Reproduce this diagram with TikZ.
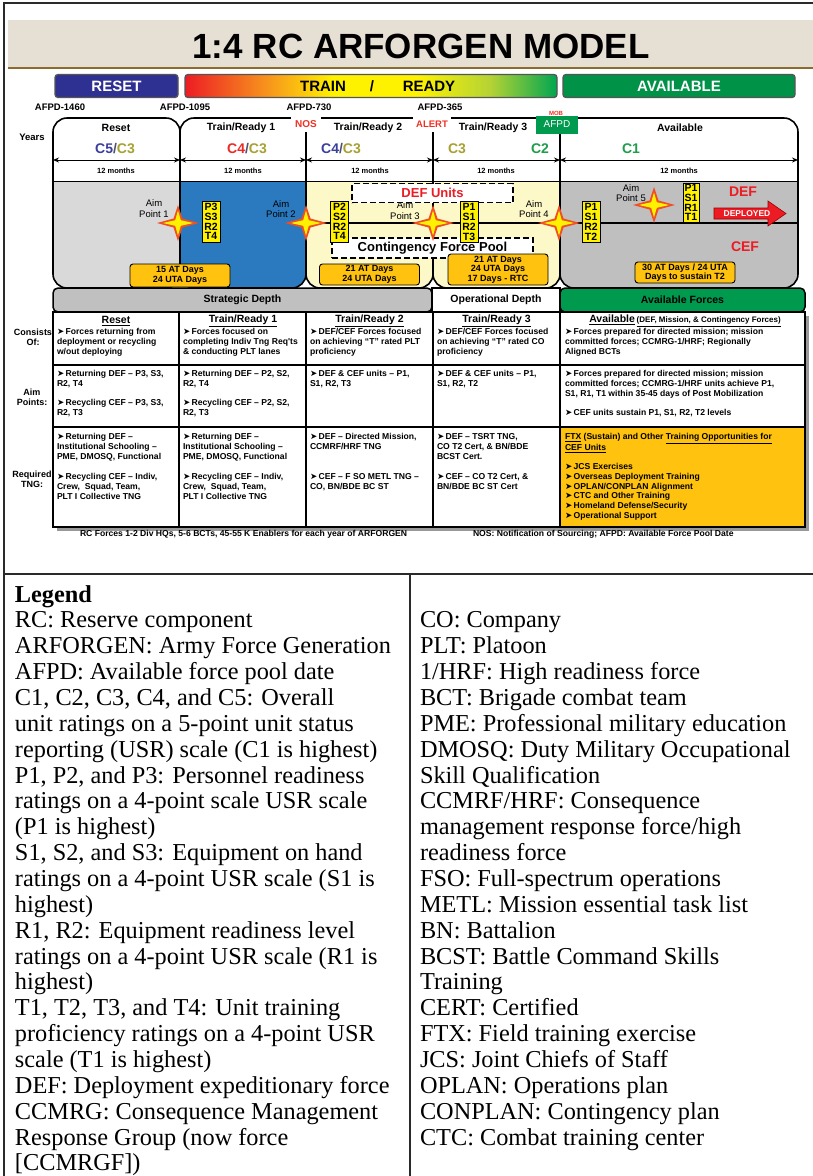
\documentclass[tikz,border=0pt]{standalone}
\usepackage{fontspec}
\setmainfont{Liberation Serif}
\newfontfamily\arial{Liberation Sans}
\newfontfamily\djv{DejaVu Sans}
\usetikzlibrary{arrows.meta}
\definecolor{beige}{HTML}{E6DFD3}
\definecolor{brownline}{HTML}{8B6B2E}
\definecolor{frameclr}{HTML}{2A2A2A}
\definecolor{phaseedge}{HTML}{555555}
\definecolor{resetblue}{HTML}{2E3192}
\definecolor{availgreen}{HTML}{009247}
\definecolor{trRed}{HTML}{ED1C24}
\definecolor{trOrange}{HTML}{F7941D}
\definecolor{trYellow}{HTML}{FFF200}
\definecolor{trLime}{HTML}{B5D334}
\definecolor{trGreen}{HTML}{00A651}
\definecolor{nosred}{HTML}{EE3124}
\definecolor{cblue}{HTML}{3B3F9E}
\definecolor{colive}{HTML}{A8A132}
\definecolor{cred}{HTML}{EE2A24}
\definecolor{cgreen}{HTML}{1E9E4B}
\definecolor{slashgray}{HTML}{505070}
\definecolor{resetgray}{HTML}{D9D9D9}
\definecolor{tr1blue}{HTML}{2B79BF}
\definecolor{lightyellow}{HTML}{FCF8C8}
\definecolor{availgray}{HTML}{BFBFBF}
\definecolor{psyellow}{HTML}{FFF200}
\definecolor{orangebox}{HTML}{FFC20E}
\definecolor{starred}{HTML}{F04E23}
\definecolor{staryellow}{HTML}{FFF200}
\definecolor{defred}{HTML}{ED1C24}
\definecolor{sdgray}{HTML}{C0C0C0}
\definecolor{afgreen}{HTML}{009A4E}
\pgfdeclarehorizontalshading{trainready}{100bp}{color(0bp)=(trRed); color(25bp)=(trRed); color(36bp)=(trOrange); color(45bp)=(trYellow); color(56bp)=(trYellow); color(66bp)=(trLime); color(75bp)=(trGreen); color(100bp)=(trGreen)}
\newcommand{\blt}{{\djv\fontsize{8.6}{8.6}\selectfont\char"27A4}\,}
\newcommand{\lane}[3]{%
  \fill[white,rounded corners=14pt] (#1,118) rectangle (#2,288);
  \begin{scope}
    \clip[rounded corners=14pt] (#1,118) rectangle (#2,288);
    \fill[#3] (#1,181) rectangle (#2,288);
  \end{scope}
  \draw[line width=0.8pt] (#1,181) -- (#2,181);
  \draw[monthsarrow] (#1,160) -- (#2,160);
  \draw[laneline] (#1,118) rectangle (#2,288);}
\begin{document}
\begin{tikzpicture}[x=1pt,y=-1pt,
  every node/.style={inner sep=0pt,outer sep=0pt},
  outerframe/.style={line width=2.2pt,draw=frameclr},
  phasebox/.style={draw=phaseedge,line width=1.3pt,rounded corners=3pt,minimum height=23pt,font=\arial\bfseries\fontsize{15}{18}\selectfont},
  phasefont/.style={font=\arial\bfseries\fontsize{15}{18}\selectfont},
  afpdlbl/.style={font=\arial\bfseries\fontsize{9.5}{11}\selectfont},
  lanehd/.style={font=\arial\bfseries\fontsize{10.5}{12}\selectfont},
  clbl/.style={font=\arial\bfseries\fontsize{14}{16}\selectfont},
  months/.style={font=\arial\bfseries\fontsize{7.5}{9}\selectfont},
  monthsarrow/.style={{Stealth[length=6pt,width=5pt]}-{Stealth[length=6pt,width=5pt]},line width=0.9pt},
  laneline/.style={line width=1.6pt,draw=black,rounded corners=14pt},
  aimlbl/.style={align=center,font=\arial\fontsize{9.5}{10.5}\selectfont},
  psrt/.style={draw=black,line width=0.8pt,fill=psyellow,align=center,minimum width=18pt,minimum height=41pt,font=\arial\bfseries\fontsize{10.5}{9.8}\selectfont},
  obox/.style={draw=black,line width=0.9pt,fill=orangebox,rounded corners=3pt,align=center,minimum width=100pt,font=\arial\bfseries\fontsize{9}{9.6}\selectfont},
  dashbox/.style={draw=black,dash pattern=on 6pt off 3pt,line width=1.8pt,fill=white,font=\arial\bfseries\fontsize{13}{15}\selectfont},
  redlbl/.style={text=defred,font=\arial\bfseries\fontsize{14}{16}\selectfont},
  tblhdr/.style={draw=black,line width=1.5pt,minimum height=24pt,font=\arial\bfseries\fontsize{10.5}{12}\selectfont},
  colhd/.style={font=\arial\bfseries\fontsize{10.5}{12}\selectfont},
  cell/.style={anchor=north west,align=left,font=\arial\bfseries\fontsize{8.6}{9.75}\selectfont},
  rowlbl/.style={align=center,font=\arial\bfseries\fontsize{9}{10}\selectfont},
  foot/.style={anchor=west,font=\arial\bfseries\fontsize{8.6}{10}\selectfont},
  leg/.style={anchor=base west,font=\fontsize{24.3}{25.9}\selectfont},
  tgrid/.style={line width=2pt,draw=black},
  aimstar/.pic={
    \fill[starred] (-21,0) -- (-4.5,-4.5) -- (0,-18) -- (4.5,-4.5) -- (21,0) -- (4.5,4.5) -- (0,18) -- (-4.5,4.5) -- cycle;
    \fill[staryellow] (-15,0) -- (-2.8,-2.8) -- (0,-12.5) -- (2.8,-2.8) -- (15,0) -- (2.8,2.8) -- (0,12.5) -- (-2.8,2.8) -- cycle;}
]
\useasboundingbox (0,0) rectangle (813,1176);
\fill[white] (0,0) rectangle (813,1176);
% frame
\draw[outerframe] (813,3) -- (4,3) -- (4,1176);
\draw[outerframe] (4,574) -- (813,574);
\draw[outerframe] (410,574) -- (410,1176);
% title
\fill[beige] (8,20) rectangle (813,68);
\draw[line width=1.5pt,brownline] (8,68) -- (813,68);
\node[font=\arial\bfseries\fontsize{35}{40}\selectfont] (title) at (421,46) {1:4 RC ARFORGEN MODEL};
% phase bars
\node[phasebox,fill=resetblue,text=white,minimum width=123pt] (reset) at (116.5,86) {RESET};
\node[phasebox,shade,shading=trainready,minimum width=372pt] (trbar) at (371,86) {};
\node[phasefont] (train) at (323,86) {TRAIN};
\node[phasefont] (slash) at (372,86) {/};
\node[phasefont] (ready) at (429,86) {READY};
\node[phasebox,fill=availgreen,text=white,minimum width=232pt] (availbar) at (679,86) {AVAILABLE};
% AFPD labels
\node[afpdlbl] (a1460) at (60,107) {AFPD-1460};
\node[afpdlbl] (a1095) at (185,107) {AFPD-1095};
\node[afpdlbl] (a730) at (309,107) {AFPD-730};
\node[afpdlbl] (a365) at (440,107) {AFPD-365};
\node[afpdlbl] (years) at (32,137) {Years};
% lanes
\lane{53}{180}{resetgray}
\lane{180}{306}{tr1blue}
\lane{306}{433}{lightyellow}
\lane{433}{560}{lightyellow}
\lane{560}{798}{availgray}
\draw[line width=1.3pt] (306,223) -- (798,223);
% junction labels
\node[fill=white,text=nosred,font=\arial\bfseries\fontsize{10}{12}\selectfont,minimum width=30pt,minimum height=15pt] (nos) at (306,124) {NOS};
\node[fill=white,text=nosred,font=\arial\bfseries\fontsize{9.5}{12}\selectfont,minimum width=38pt,minimum height=15pt] (alert) at (432,124) {ALERT};
\node[fill=afgreen,text=white,font=\arial\fontsize{10}{12}\selectfont,minimum width=42pt,minimum height=18pt] (afpdbox) at (557,124.5) {AFPD};
\node[text=nosred,font=\arial\bfseries\fontsize{6}{7}\selectfont] (mob) at (556,113) {MOB};
% lane headers
\node[lanehd] (hreset) at (116,128) {Reset};
\node[lanehd] (htr1) at (241,128) {Train/Ready 1};
\node[lanehd] (htr2) at (368,128) {Train/Ready 2};
\node[lanehd] (htr3) at (493,128) {Train/Ready 3};
\node[lanehd] (havail) at (680,128) {Available};
\node[clbl] (cl1) at (115,149) {\textcolor{cblue}{C5}\textcolor{slashgray}{/}\textcolor{colive}{C3}};
\node[clbl] (cl2) at (247,149) {\textcolor{cred}{C4}\textcolor{slashgray}{/}\textcolor{colive}{C3}};
\node[clbl] (cl3) at (341,149) {\textcolor{cblue}{C4}\textcolor{slashgray}{/}\textcolor{colive}{C3}};
\node[clbl,text=colive] (cl4) at (457,149) {C3};
\node[clbl,text=cgreen] (cl5) at (540,149) {C2};
\node[clbl,text=cgreen] (cl6) at (631,149) {C1};
\node[months] (m1) at (116,171) {12 months};
\node[months] (m2) at (243,171) {12 months};
\node[months] (m3) at (370,171) {12 months};
\node[months] (m4) at (496,171) {12 months};
\node[months] (m5) at (679,171) {12 months};
% aim labels
\node[aimlbl] (aim1) at (154,208.5) {Aim\\Point 1};
\node[aimlbl] (aim2) at (281,209) {Aim\\Point 2};
\node[aimlbl] (aim3) at (405,210.5) {Aim\\Point 3};
\node[aimlbl] (aim4) at (534,209) {Aim\\Point 4};
\node[aimlbl] (aim5) at (631,193) {Aim\\Point 5};
% dashed boxes
\node[dashbox,text=defred,minimum width=161pt,minimum height=19pt] (defunits) at (432.5,193) {DEF Units};
\node[dashbox,minimum width=201pt,minimum height=20pt] (cfp) at (432.5,248) {Contingency Force Pool};
% stars
\pic (s1) at (178,223) {aimstar};
\pic (s2) at (306,223) {aimstar};
\pic (s3) at (433,223) {aimstar};
\pic (s4) at (559,223) {aimstar};
\pic (s5) at (654,205) {aimstar};
% readiness boxes
\node[psrt] (b1) at (211,221.5) {P3\\S3\\R2\\T4};
\node[psrt] (b2) at (339.5,221.5) {P2\\S2\\R2\\T4};
\node[psrt] (b3) at (469,222) {P1\\S1\\R2\\T3};
\node[psrt] (b4) at (591,222) {P1\\S1\\R2\\T2};
\node[psrt,minimum width=16pt,minimum height=39pt] (b5) at (691,202.5) {P1\\S1\\R1\\T1};
% orange boxes
\node[obox,minimum height=23pt] (o1) at (180,275.5) {15 AT Days\\24 UTA Days};
\node[obox,minimum height=21pt] (o2) at (369.5,274.5) {21 AT Days\\24 UTA Days};
\node[obox,minimum height=31pt] (o3) at (498,269.5) {21 AT Days\\24 UTA Days\\17 Days - RTC};
\node[obox,minimum height=21pt] (o4) at (685,272.5) {30 AT Days / 24 UTA\\Days to sustain T2};
% DEF / CEF
\node[redlbl] (deflbl) at (743,192) {DEF};
\node[redlbl] (ceflbl) at (745,247) {CEF};
\draw[fill=defred,draw=red!60!black,line width=0.6pt] (714,208) -- (768,208) -- (768,201) -- (786,213.5) -- (768,226) -- (768,219) -- (714,219) -- cycle;
\node[text=white,font=\arial\bfseries\fontsize{8.5}{9}\selectfont] (deployed) at (747,213.5) {DEPLOYED};
% table
\fill[black!40] (57,316) rectangle (808.5,530.5);
\fill[white] (53,312) rectangle (805,527);
\fill[orangebox] (560,427) rectangle (805,527);
\node[tblhdr,fill=sdgray,rounded corners=5pt,minimum width=379pt] (strat) at (242.5,300) {Strategic Depth};
\node[tblhdr,fill=white,minimum width=128pt] (oper) at (496,300) {Operational Depth};
\node[tblhdr,fill=afgreen,rounded corners=5pt,minimum width=245pt] (availf) at (682.5,300) {Available Forces};
\draw[tgrid] (53,312) rectangle (805,527);
\draw[tgrid] (179,312) -- (179,527);
\draw[tgrid] (306,312) -- (306,527);
\draw[tgrid] (433,312) -- (433,527);
\draw[tgrid] (560,312) -- (560,527);
\draw[tgrid] (53,365) -- (805,365);
\draw[tgrid] (53,427) -- (805,427);
% row labels
\node[rowlbl] (lconsist) at (33,337) {Consists\\Of:};
\node[rowlbl] (laim) at (32,397) {Aim\\Points:};
\node[rowlbl] (lreq) at (32,479.5) {Required\\TNG:};
% row 1
\node[colhd] (h1) at (116,321) {\underline{Reset}};
\node[colhd] (h2) at (243,321) {\underline{Train/Ready 1}};
\node[colhd] (h3) at (369.5,321) {\underline{Train/Ready 2}};
\node[colhd] (h4) at (496.5,321) {\underline{Train/Ready 3}};
\node[colhd] (h5) at (685,321) {\underline{Available}\,{\fontsize{8}{9}\selectfont\underline{(DEF, Mission, \& Contingency Forces)}}};
\node[cell] (r1c1) at (57,328.5) {\blt Forces returning from\\deployment or recycling\\w/out deploying};
\node[cell] (r1c2) at (183,328.5) {\blt Forces focused on\\completing Indiv Tng Req'ts\\\& conducting PLT lanes};
\node[cell] (r1c3) at (310,328.5) {\blt DEF/CEF Forces focused\\on achieving “T” rated PLT\\proficiency};
\node[cell] (r1c4) at (437,328.5) {\blt DEF/CEF Forces focused\\on achieving “T” rated CO\\proficiency};
\node[cell] (r1c5) at (565,328.5) {\blt Forces prepared for directed mission; mission\\committed forces; CCMRG-1/HRF; Regionally\\Aligned BCTs};
% row 2
\node[cell] (r2c1) at (57,370.5) {\blt Returning DEF – P3, S3,\\R2, T4\\[9.75pt]\blt Recycling CEF – P3, S3,\\R2, T3};
\node[cell] (r2c2) at (183,370.5) {\blt Returning DEF – P2, S2,\\R2, T4\\[9.75pt]\blt Recycling CEF – P2, S2,\\R2, T3};
\node[cell] (r2c3) at (310,370.5) {\blt DEF \& CEF units – P1,\\S1, R2, T3};
\node[cell] (r2c4) at (437,370.5) {\blt DEF \& CEF units – P1,\\S1, R2, T2};
\node[cell] (r2c5) at (565,370.5) {\blt Forces prepared for directed mission; mission\\committed forces; CCMRG-1/HRF units achieve P1,\\S1, R1, T1 within 35-45 days of Post Mobilization\\[9.75pt]\blt CEF units sustain P1, S1, R2, T2 levels};
% row 3
\node[cell] (r3c1a) at (57,433.5) {\blt Returning DEF –\\Institutional Schooling –\\PME, DMOSQ, Functional};
\node[cell] (r3c1b) at (57,473.5) {\blt Recycling CEF – Indiv,\\Crew,\ \ Squad, Team,\\PLT I Collective TNG};
\node[cell] (r3c2a) at (183,433.5) {\blt Returning DEF –\\Institutional Schooling –\\PME, DMOSQ, Functional};
\node[cell] (r3c2b) at (183,473.5) {\blt Recycling CEF – Indiv,\\Crew,\ \ Squad, Team,\\PLT I Collective TNG};
\node[cell] (r3c3a) at (310,433.5) {\blt DEF – Directed Mission,\\CCMRF/HRF TNG};
\node[cell] (r3c3b) at (310,473.5) {\blt CEF – F SO METL TNG –\\CO, BN/BDE BC ST};
\node[cell] (r3c4a) at (437,433.5) {\blt DEF – TSRT TNG,\\CO T2 Cert, \& BN/BDE\\BCST Cert.};
\node[cell] (r3c4b) at (437,473.5) {\blt CEF – CO T2 Cert, \&\\BN/BDE BC ST Cert};
\node[cell] (r3c5a) at (565,433.5) {\underline{FTX} (Sustain) and Other \underline{Training Opportunities for}\\\underline{CEF Units}};
\node[cell] (r3c5b) at (565,463.5) {\blt JCS Exercises\\\blt Overseas Deployment Training\\\blt OPLAN/CONPLAN Alignment\\\blt CTC and Other Training\\\blt Homeland Defense/Security\\\blt Operational Support};
% footer
\node[foot] (foot1) at (80,534) {RC Forces 1-2 Div HQs, 5-6 BCTs, 45-55 K Enablers for each year of ARFORGEN};
\node[foot] (foot2) at (473,534) {NOS: Notification of Sourcing; AFPD: Available Force Pool Date};
% legend
\foreach \t [count=\i from 0] in {{\textbf{Legend}},{RC: Reserve component},{ARFORGEN: Army Force Generation},{AFPD: Available force pool date},{C1, C2, C3, C4, and C5: Overall},{unit ratings on a 5-point unit status},{reporting (USR) scale (C1 is highest)},{P1, P2, and P3: Personnel readiness},{ratings on a 4-point scale USR scale},{(P1 is highest)},{S1, S2, and S3: Equipment on hand},{ratings on a 4-point USR scale (S1 is},{highest)},{R1, R2: Equipment readiness level},{ratings on a 4-point USR scale (R1 is},{highest)},{T1, T2, T3, and T4: Unit training},{proficiency ratings on a 4-point USR},{scale (T1 is highest)},{DEF: Deployment expeditionary force},{CCMRG: Consequence Management},{Response Group (now force},{[CCMRGF])}}
  \node[leg] (legL\i) at (15,602+25.86*\i) {\t};
\foreach \t [count=\i from 1] in {{CO: Company},{PLT: Platoon},{1/HRF: High readiness force},{BCT: Brigade combat team},{PME: Professional military education},{DMOSQ: Duty Military Occupational},{Skill Qualification},{CCMRF/HRF: Consequence},{management response force/high},{readiness force},{FSO: Full-spectrum operations},{METL: Mission essential task list},{BN: Battalion},{BCST: Battle Command Skills},{Training},{CERT: Certified},{FTX: Field training exercise},{JCS: Joint Chiefs of Staff},{OPLAN: Operations plan},{CONPLAN: Contingency plan},{CTC: Combat training center}}
  \node[leg] (legR\i) at (420,602+25.86*\i) {\t};
\end{tikzpicture}
\end{document}
